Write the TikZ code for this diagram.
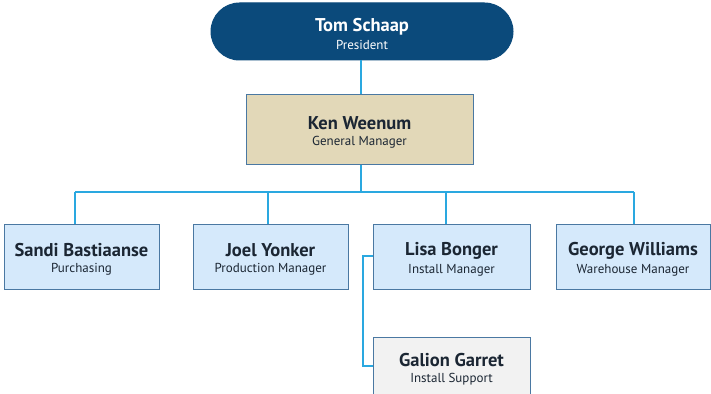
\documentclass[tikz,border=0pt]{standalone}
\usepackage{fontspec}
\setmainfont{PT Sans}
\definecolor{navy}{HTML}{0B4A7B}
\definecolor{tan}{HTML}{E2D8B8}
\definecolor{paleblue}{HTML}{D5E9FB}
\definecolor{palegrey}{HTML}{F2F2F2}
\definecolor{edge}{HTML}{4A78A2}
\definecolor{wire}{HTML}{2AA8E0}
\definecolor{ink}{HTML}{1B2633}
\tikzset{
  person/.style={draw=edge, line width=1pt, align=center, inner sep=0pt,
    text=ink},
  wireline/.style={draw=wire, line width=1.4pt},
}
% name on the first line, role underneath; the strut lowers the pair a little
\newcommand{\who}[2]{{\fontsize{18.5}{18.5}\selectfont\bfseries\rule{0pt}{19pt}#1}\\[4pt]{\fontsize{13}{13}\selectfont #2}}
\begin{document}
\begin{tikzpicture}[x=1pt, y=-1pt]
  \useasboundingbox (0,0) rectangle (711,393);
  \clip (0,0) rectangle (711,393);

  % anchor points of the connector bus
  \coordinate (bus) at (361,192);
  \coordinate (bA) at (75,192);
  \coordinate (bB) at (268,192);
  \coordinate (bC) at (446,192);
  \coordinate (bD) at (634,192);
  \coordinate (side) at (363,256);

  % boxes
  \node[person, fill=navy, draw=navy, text=white, rounded corners=28.5pt,
        minimum width=302pt, minimum height=57pt] (pres) at (362,31.5)
        {\who{Tom Schaap}{President}};
  \node[person, fill=tan, minimum width=227pt, minimum height=69pt] (gm) at (359.5,129.5)
        {\who{Ken Weenum}{General Manager}};
  \node[person, fill=paleblue, minimum width=155pt, minimum height=65pt] (sandi) at (81.5,256.5)
        {\who{Sandi Bastiaanse}{Purchasing}};
  \node[person, fill=paleblue, minimum width=155pt, minimum height=65pt] (joel) at (270.5,256.5)
        {\who{Joel Yonker}{Production Manager}};
  \node[person, fill=paleblue, minimum width=157pt, minimum height=65pt] (lisa) at (451.5,256.5)
        {\who{Lisa Bonger}{Install Manager}};
  \node[person, fill=paleblue, minimum width=154pt, minimum height=65pt] (george) at (633,256.5)
        {\who{George Williams}{Warehouse Manager}};
  \node[person, fill=palegrey, minimum width=157pt, minimum height=58pt] (galion) at (451.5,366)
        {\who{Galion Garret}{Install Support}};

  % connectors
  \path[wireline] (pres.south -| bus) -- (gm.north -| bus);
  \path[wireline] (gm.south -| bus) -- (bus);
  \path[wireline] (bA) -- (bD);
  \path[wireline] (bA) -- (bA |- sandi.north);
  \path[wireline] (bB) -- (bB |- joel.north);
  \path[wireline] (bC) -- (bC |- lisa.north);
  \path[wireline] (bD) -- (bD |- george.north);
  \path[wireline] (lisa.west |- side) -- (side) |- (galion.west);
\end{tikzpicture}
\end{document}
